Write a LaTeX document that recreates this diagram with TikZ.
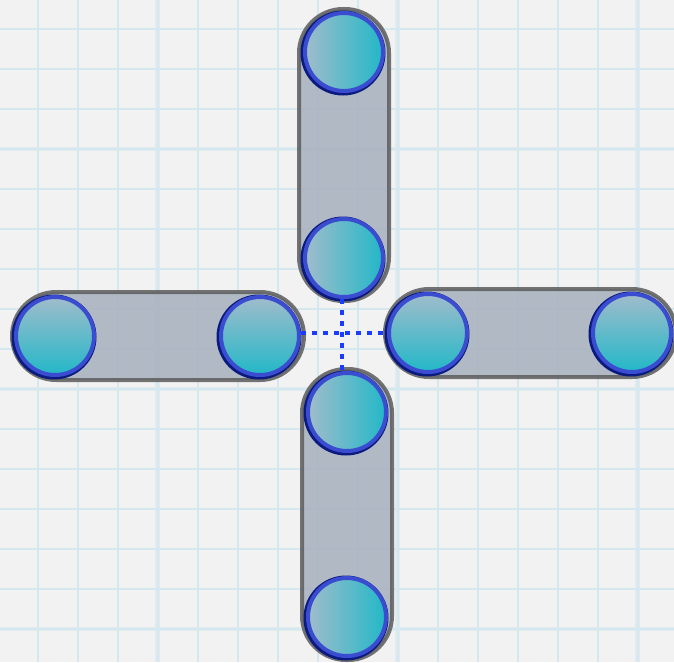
\documentclass[tikz,border=0pt]{standalone}
\usetikzlibrary{calc}
\definecolor{bgc}{HTML}{F2F2F2}
\definecolor{gridc}{HTML}{D5E8EF}
\definecolor{gridthick}{HTML}{DFEBEF}
\definecolor{capfill}{HTML}{A9B3C0}
\definecolor{capline}{HTML}{5C5C5C}
\definecolor{navyc}{HTML}{0B1A7E}
\definecolor{ringc}{HTML}{3A4CD0}
\definecolor{ballgray}{HTML}{A0BCCB}
\definecolor{ballmid}{HTML}{7FBCCA}
\definecolor{ballcyan}{HTML}{22B8C8}
\definecolor{dotc}{HTML}{1A3CFF}
\tikzset{
  ballv/.style={circle, minimum size=78pt, inner sep=0pt, draw=ringc, line width=4pt,
     left color=ballgray, right color=ballcyan},
  ballh/.style={circle, minimum size=78pt, inner sep=0pt, draw=ringc, line width=4pt,
     top color=ballgray, bottom color=ballcyan},
  capsule/.style={fill=capfill, fill opacity=0.9, draw=capline, draw opacity=0.85, line width=4pt, rounded corners=44pt},
  navyrim/.style={fill=navyc},
  dotline/.style={draw=dotc, line width=4.5pt, dash pattern=on 4.5pt off 6.5pt},
  thin grid/.style={draw=gridc, line width=2pt},
  thick grid/.style={draw=gridthick, line width=4.5pt},
}
\begin{document}
\begin{tikzpicture}[x=1pt,y=-1pt]
\useasboundingbox (0,0) rectangle (674,662);
\fill[bgc] (0,0) rectangle (674,662);
% grid
\foreach \k in {3,9,15} {
  \pgfmathsetmacro{\gx}{37.5+40*\k}
  \pgfmathsetmacro{\gy}{29+40*\k}
  \draw[thick grid] (\gx,0) -- (\gx,662);
  \draw[thick grid] (0,\gy) -- (674,\gy);
}
\foreach \k in {0,...,16} {
  \pgfmathsetmacro{\gx}{37.5+40*\k}
  \pgfmathsetmacro{\gy}{29+40*\k}
  \draw[thin grid] (\gx,0) -- (\gx,662);
  \draw[thin grid] (0,\gy) -- (674,\gy);
}
% anchor coordinates of the balls
\coordinate (t1c) at (344,52);
\coordinate (t2c) at (344,258);
\coordinate (b1c) at (347,412);
\coordinate (b2c) at (347,617);
\coordinate (l1c) at (55,336);
\coordinate (l2c) at (260,336);
\coordinate (r1c) at (428,333);
\coordinate (r2c) at (632,333);
% capsules
\draw[capsule] ([shift={(-45,-43)}]t1c) rectangle ([shift={(45,43)}]t2c);
\draw[capsule] ([shift={(-45,-43)}]b1c) rectangle ([shift={(45,43)}]b2c);
\draw[capsule] ([shift={(-43,-44)}]l1c) rectangle ([shift={(44,44)}]l2c);
\draw[capsule] ([shift={(-43,-44)}]r1c) rectangle ([shift={(44,44)}]r2c);
% navy rims (offset shadows)
\foreach \c in {t1c,t2c,b1c,b2c,l1c,l2c,r1c,r2c}
  \fill[navyrim] ([shift={(-1,1)}]\c) circle (42.5pt);
% balls
\node[ballv] (t1) at (t1c) {};
\node[ballv] (t2) at (t2c) {};
\node[ballv] (b1) at (b1c) {};
\node[ballv] (b2) at (b2c) {};
\node[ballh] (l1) at (l1c) {};
\node[ballh] (l2) at (l2c) {};
\node[ballh] (r1) at (r1c) {};
\node[ballh] (r2) at (r2c) {};
% dotted connectors
\draw[dotline] ([xshift=-2pt]t2.south) -- ([xshift=-2pt]t2.south |- b1.north);
\draw[dotline] (r1.west -| l2.east) -- (r1.west);
\end{tikzpicture}
\end{document}
